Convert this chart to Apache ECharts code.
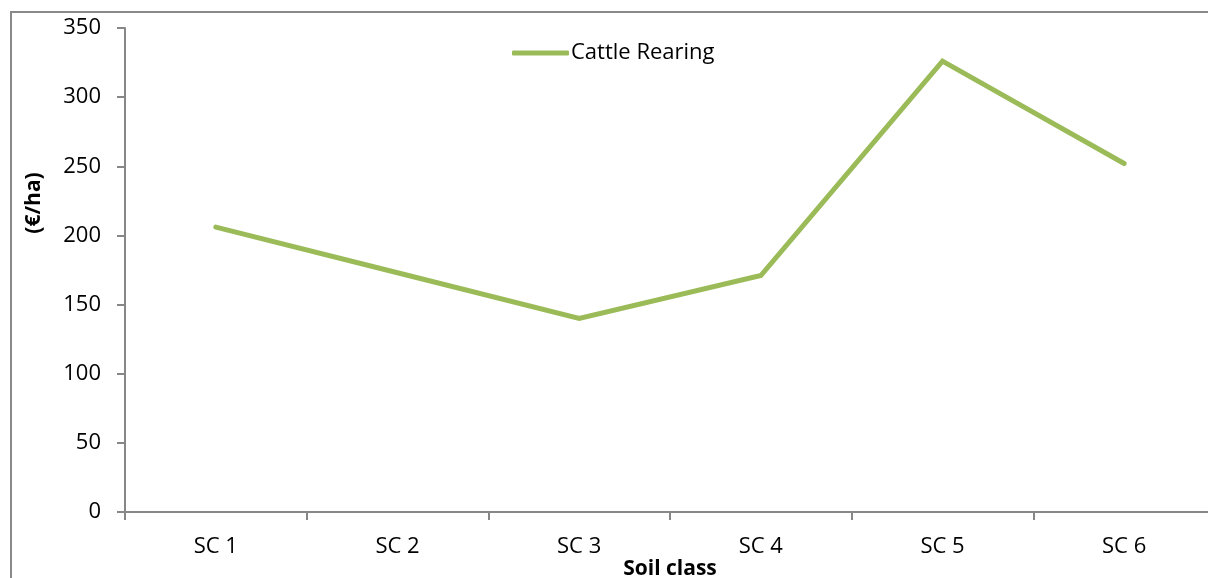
<!DOCTYPE html>
<html>
<head>
<meta charset="utf-8">
<script src="https://cdn.jsdelivr.net/npm/echarts@6/dist/echarts.min.js"></script>
<style>
  html, body { margin: 0; padding: 0; background: #fff; }
  #chart { width: 1208px; height: 578px; }
</style>
</head>
<body>
<div id="chart"></div>
<script>
const categories = ["SC 1", "SC 2", "SC 3", "SC 4", "SC 5", "SC 6"];
const cattleRearing = [206, 173, 140, 171, 326, 252];
const seriesName = "Cattle Rearing";

const font = "'Open Sans', 'Liberation Sans', sans-serif";
const axisGrey = "#878787";
const green = "#9BBB59";

const myChart = echarts.init(document.getElementById("chart"), null, { renderer: "canvas" });

const option = {
  backgroundColor: "#fff",
  animation: false,
  textStyle: { fontFamily: font },
  grid: { left: 125, top: 28, right: -7, bottom: 66, outerBoundsMode: "none" },
  legend: {
    left: 507,
    top: 37,
    icon: "roundRect",
    itemWidth: 57,
    itemHeight: 5,
    itemGap: 10,
    itemStyle: { color: green },
    textStyle: { fontSize: 22, color: "#000", fontFamily: font, padding: [0, 0, 0, -3] },
    data: [seriesName],
  },
  graphic: [
    {
      type: "rect",
      shape: { x: 11, y: 12, width: 1300, height: 700 },
      style: { fill: "none", stroke: "#898989", lineWidth: 2 },
      silent: true,
      z: -1,
    },
    {
      type: "text",
      x: 34,
      y: 203,
      rotation: Math.PI / 2,
      style: {
        text: "(€/ha)",
        font: "bold 21px " + font,
        fill: "#000",
        align: "center",
        verticalAlign: "middle",
      },
    },
  ],
  xAxis: {
    type: "category",
    data: categories,
    boundaryGap: true,
    name: "Soil class",
    nameLocation: "middle",
    nameGap: 47,
    nameMoveOverlap: false,
    nameTextStyle: { fontSize: 21, fontWeight: "bold", color: "#000", fontFamily: font },
    axisLine: { lineStyle: { color: axisGrey, width: 2 } },
    axisTick: { show: true, length: 8, alignWithLabel: false, lineStyle: { color: axisGrey, width: 2 } },
    axisLabel: { fontSize: 22, color: "#000", margin: 24, fontFamily: font },
    splitLine: { show: false },
  },
  yAxis: {
    type: "value",
    min: 0,
    max: 350,
    interval: 50,
    axisLine: { show: true, lineStyle: { color: axisGrey, width: 2 } },
    axisTick: { show: true, length: 8, lineStyle: { color: axisGrey, width: 2 } },
    axisLabel: { fontSize: 22, color: "#000", margin: 24, fontFamily: font },
    splitLine: { show: false },
  },
  series: [
    {
      name: seriesName,
      type: "line",
      data: cattleRearing,
      symbol: "none",
      color: green,
      lineStyle: { color: green, width: 5, cap: "round", join: "miter" },
    },
  ],
};

myChart.setOption(option);
</script>
</body>
</html>
